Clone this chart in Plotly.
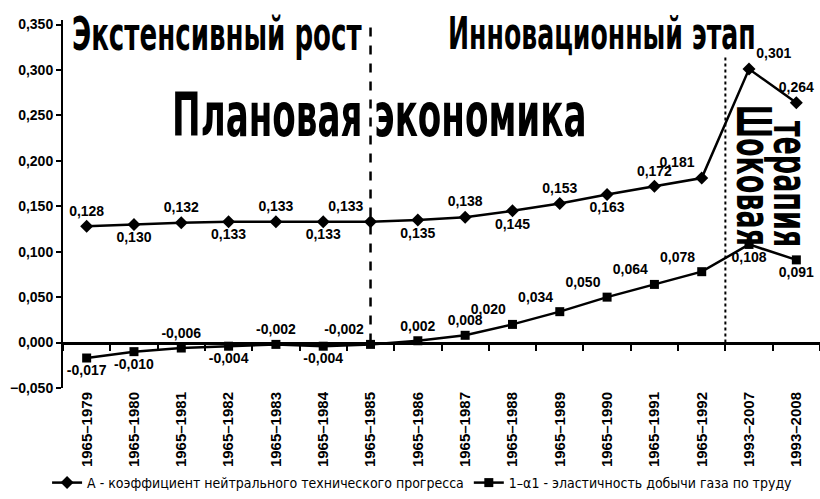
import plotly.graph_objects as go

# Periods of estimation
periods = ["1965–1979", "1965–1980", "1965–1981", "1965–1982", "1965–1983",
           "1965–1984", "1965–1985", "1965–1986", "1965–1987", "1965–1988",
           "1965–1989", "1965–1990", "1965–1991", "1965–1992", "1993–2007",
           "1993–2008"]

# A - neutral technical progress coefficient
coef_a = [0.128, 0.130, 0.132, 0.133, 0.133, 0.133, 0.133, 0.135, 0.138,
          0.145, 0.153, 0.163, 0.172, 0.181, 0.301, 0.264]

# 1-a1 - elasticity of gas output with respect to labour
elast_labour = [-0.017, -0.010, -0.006, -0.004, -0.002, -0.004, -0.002, 0.002,
                0.008, 0.020, 0.034, 0.050, 0.064, 0.078, 0.108, 0.091]

pos_a = ["top center", "bottom center", "top center", "bottom center",
         "top center", "bottom center", "top left", "bottom center",
         "top center", "bottom center", "top center", "bottom center",
         "top center", "top left", "top right", "top center"]
pos_b = ["bottom center", "bottom center", "top center", "bottom center",
         "top center", "bottom center", "top left", "top center",
         "top center", "top left", "top left", "top left",
         "top left", "top left", "bottom center", "bottom center"]

name_a = "А - коэффициент нейтрального технического прогресса"
name_b = "1–α1 - эластичность добычи газа по труду"

x_idx = list(range(len(periods)))
split_planned = 6      # 1965–1985
split_market = 13.5    # between 1965–1992 and 1993–2007

label_font = dict(family="Liberation Sans", size=14, color="black", weight="bold")
heavy = "DejaVu Sans Condensed"

fig = go.Figure()
fig.add_trace(go.Scatter(
    x=x_idx, y=coef_a, name=name_a, mode="lines+markers+text",
    line=dict(color="black", width=2.5),
    marker=dict(symbol="diamond", size=10, color="black"),
    texttemplate="%{y:.3f}", textposition=pos_a, textfont=label_font,
    cliponaxis=False))
fig.add_trace(go.Scatter(
    x=x_idx, y=elast_labour, name=name_b, mode="lines+markers+text",
    line=dict(color="black", width=2.5),
    marker=dict(symbol="square", size=9, color="black"),
    texttemplate="%{y:.3f}", textposition=pos_b, textfont=label_font,
    cliponaxis=False))
# carrier for the axis drawn along zero
fig.add_trace(go.Scatter(x=[0], y=[0], xaxis="x2", mode="markers",
                         marker=dict(opacity=0), showlegend=False,
                         hoverinfo="skip"))

y_lo, y_hi = -0.05, 0.355

fig.add_shape(type="line", xref="x", yref="y", x0=split_planned, x1=split_planned,
              y0=0, y1=0.352, line=dict(color="black", width=2.5, dash="dash"))
fig.add_shape(type="line", xref="x", yref="y", x0=split_market, x1=split_market,
              y0=0, y1=0.316, line=dict(color="black", width=2, dash="dot"))

fig.add_annotation(x=2.75, y=0.340, xref="x", yref="y", text="Экстенсивный рост",
                   showarrow=False, font=dict(family=heavy, size=29, weight="bold", color="black"))
fig.add_annotation(x=10.9, y=0.340, xref="x", yref="y", text="Инновационный этап",
                   showarrow=False, font=dict(family=heavy, size=28, weight="bold", color="black"))
fig.add_annotation(x=6.2, y=0.251, xref="x", yref="y", text="Плановая экономика",
                   showarrow=False, font=dict(family=heavy, size=38, weight="bold", color="black"))
fig.add_annotation(x=14.1, y=0.184, xref="x", yref="y", text="Шоковая",
                   textangle=90, showarrow=False,
                   font=dict(family=heavy, size=30, weight="bold", color="black"))
fig.add_annotation(x=14.88, y=0.175, xref="x", yref="y", text="терапия",
                   textangle=90, showarrow=False,
                   font=dict(family=heavy, size=30, weight="bold", color="black"))

fig.update_layout(
    width=820, height=499,
    margin=dict(l=63, r=0, t=20, b=111, autoexpand=False),
    paper_bgcolor="white", plot_bgcolor="white",
    separators=", ",
    font=dict(family="Liberation Sans", color="black"),
    showlegend=True,
    legend=dict(orientation="h", x=0.475, xanchor="center",
                yref="container", y=0.0, yanchor="bottom",
                font=dict(family="DejaVu Sans Condensed", size=14, color="black"),
                itemwidth=30, traceorder="normal"),
    xaxis=dict(range=[-0.5, 15.5], tickmode="array", tickvals=x_idx, ticktext=periods,
               tickangle=-90, showline=False, ticks="", showgrid=False, zeroline=False,
               automargin=False,
               tickfont=dict(family="Liberation Sans", size=15, weight="bold", color="black")),
    xaxis2=dict(range=[-0.5, 15.5], overlaying="x", anchor="free",
                position=(0 - y_lo) / (y_hi - y_lo), side="bottom",
                showline=True, linecolor="black", linewidth=3,
                ticks="outside", tickmode="linear", tick0=0.5, dtick=1,
                ticklen=6, tickwidth=2, tickcolor="black",
                showticklabels=False, showgrid=False, zeroline=False),
    yaxis=dict(range=[y_lo, y_hi], tickmode="linear", tick0=-0.05, dtick=0.05,
               tickformat=".3f", showline=True, linecolor="black", linewidth=2,
               ticks="outside", ticklen=5, tickwidth=2, tickcolor="black",
               showgrid=False, zeroline=False, automargin=False,
               tickfont=dict(family="Liberation Sans", size=14, weight="bold", color="black")),
)

# Headline captions are drawn tall and narrow, poster style
stretch_js = """
var gd = document.getElementById('{plot_id}');
function stretchCaptions() {
  gd.querySelectorAll('.annotation-text').forEach(function (t) {
    t.style.transformBox = 'fill-box';
    t.style.transformOrigin = 'center';
    t.style.transform = 'scaleY(1.6)';
  });
}
stretchCaptions();
gd.on('plotly_afterplot', stretchCaptions);
"""

fig.write_html("out.html", post_script=stretch_js)
